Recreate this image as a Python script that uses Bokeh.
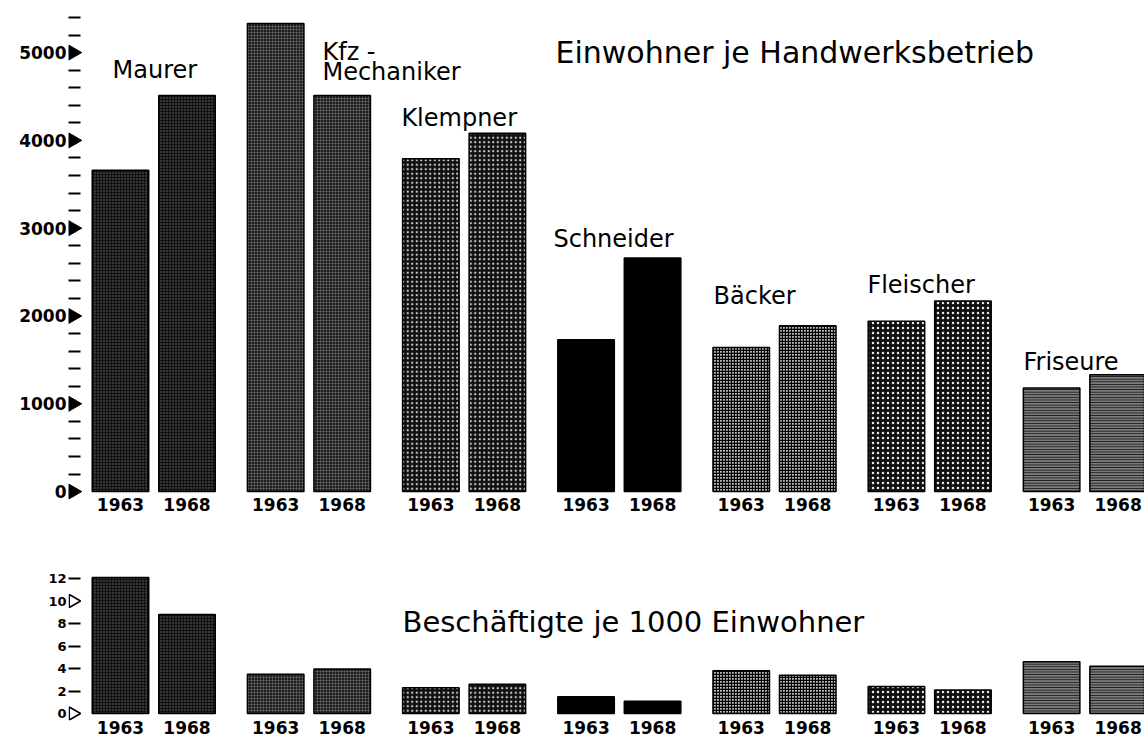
import math
from bokeh.plotting import figure
from bokeh.layouts import column
from bokeh.models import Range1d, FixedTicker, ColumnDataSource
from bokeh.core.properties import value
from bokeh.embed import file_html
from bokeh.resources import INLINE

# ---------------- data ----------------
categories = ["Maurer", "Kfz-Mechaniker", "Klempner", "Schneider", "Bäcker", "Fleischer", "Friseure"]
years = ["1963", "1968"]
einwohner_1963 = [3660, 5330, 3790, 1730, 1640, 1940, 1180]
einwohner_1968 = [4510, 4510, 4080, 2660, 1890, 2170, 1330]
beschaeftigte_1963 = [12.1, 3.5, 2.3, 1.5, 3.8, 2.4, 4.6]
beschaeftigte_1968 = [8.8, 3.95, 2.6, 1.1, 3.4, 2.1, 4.2]

top_ticks = [0, 1000, 2000, 3000, 4000, 5000]
top_minor_ticks = [v for v in range(200, 5600, 200) if v % 1000 != 0]
bottom_ticks = [0, 2, 4, 6, 8, 10, 12]
bottom_marked_ticks = [0, 10]
bottom_dash_ticks = [2, 4, 6, 8, 12]

title_top = "Einwohner je Handwerksbetrieb"
title_bottom = "Beschäftigte je 1000 Einwohner"
label_texts = ["Maurer", "Kfz -", "Mechaniker", "Klempner", "Schneider", "Bäcker", "Fleischer", "Friseure"]

# ---------------- layout / style ----------------
GROUP = 7.0           # group spacing in x units
OFF = [2.0, 5.0]      # bar centre offsets inside a group
BAR_W = 2.55
X_RANGE = (-0.345, 48.19)
TRI_X = -0.14
label_x = [1.64, 11.11, 11.11, 14.67, 21.53, 28.75, 35.69, 42.73]
label_y = [4803, 5003, 4776, 4260, 2878, 2232, 2358, 1473]
title_top_pos = (21.62, 5003)
title_bottom_pos = (14.72, 8.12)

styles = [
    dict(fill_color="#101010", hatch_pattern="dot", hatch_color="white", hatch_scale=3, hatch_weight=1, hatch_alpha=0.4),
    dict(fill_color="#1e1e1e", hatch_pattern="cross", hatch_color="#c0c0c0", hatch_scale=3, hatch_weight=0.6, hatch_alpha=0.45),
    dict(fill_color="#101010", hatch_pattern="dot", hatch_color="white", hatch_scale=4.5, hatch_weight=1.5, hatch_alpha=0.8),
    dict(fill_color="black", hatch_pattern=None, hatch_color="white", hatch_scale=3, hatch_weight=1, hatch_alpha=0),
    dict(fill_color="#bdbdbd", hatch_pattern="cross", hatch_color="black", hatch_scale=3, hatch_weight=1.3, hatch_alpha=1),
    dict(fill_color="#101010", hatch_pattern="dot", hatch_color="white", hatch_scale=5, hatch_weight=2.5, hatch_alpha=0.9),
    dict(fill_color="#7c7c7c", hatch_pattern="horizontal_line", hatch_color="#111111", hatch_scale=2.6, hatch_weight=1, hatch_alpha=1),
]

FONT = "DejaVu Sans"

xticks = []
overrides = {}
for i in range(len(categories)):
    for j, yr in enumerate(years):
        t = int(GROUP * i + OFF[j])
        xticks.append(t)
        overrides[t] = yr


def style_common(p, standoff):
    p.outline_line_color = None
    p.xgrid.visible = False
    p.ygrid.visible = False
    p.background_fill_color = "white"
    p.border_fill_color = "white"
    xa = p.xaxis[0]
    xa.ticker = FixedTicker(ticks=xticks)
    xa.major_label_overrides = overrides
    xa.axis_line_color = None
    xa.major_tick_line_color = None
    xa.minor_tick_line_color = None
    xa.major_tick_in = 0
    xa.major_tick_out = 0
    xa.major_label_standoff = standoff
    xa.major_label_text_font = FONT
    xa.major_label_text_font_style = "bold"
    xa.major_label_text_font_size = "17px"
    xa.major_label_text_color = "black"
    ya = p.yaxis[0]
    ya.axis_line_color = None
    ya.major_tick_line_color = None
    ya.major_tick_in = 0
    ya.major_tick_out = 0
    ya.minor_tick_in = 12
    ya.minor_tick_out = 0
    ya.minor_tick_line_color = "black"
    ya.minor_tick_line_width = 2.2
    ya.major_label_standoff = 2
    ya.major_label_text_font = FONT
    ya.major_label_text_font_style = "bold"
    ya.major_label_text_color = "black"


def draw_bars(p, vals63, vals68):
    for i, st in enumerate(styles):
        src = ColumnDataSource(dict(x=[GROUP * i + OFF[0], GROUP * i + OFF[1]], top=[vals63[i], vals68[i]]))
        kw = dict(st)
        if kw["hatch_pattern"] is None:
            kw.pop("hatch_pattern")
        p.vbar(x="x", top="top", bottom=0, width=BAR_W, source=src, line_color="black", line_width=1.5, **kw)


# ---------------- top chart ----------------
p1 = figure(width=1144, height=519, x_range=Range1d(*X_RANGE), y_range=Range1d(-90, 5502),
            output_backend="svg", toolbar_location=None,
            min_border_left=68, min_border_right=0, min_border_top=8, min_border_bottom=20)
style_common(p1, -2)
p1.yaxis[0].ticker = FixedTicker(ticks=top_ticks, minor_ticks=top_minor_ticks)
p1.yaxis[0].major_label_text_font_size = "17px"
draw_bars(p1, einwohner_1963, einwohner_1968)
p1.scatter(x=[TRI_X] * len(top_ticks), y=top_ticks, marker="triangle", angle=-math.pi / 2,
           size=15, fill_color="black", line_color="black")
p1.text(x=label_x, y=label_y, text=label_texts, text_font=value(FONT), text_font_size="24px",
        text_baseline="alphabetic", text_align="left", text_color="black")
p1.text(x=[title_top_pos[0]], y=[title_top_pos[1]], text=[title_top], text_font=value(FONT),
        text_font_size="30px", text_baseline="alphabetic", text_align="left", text_color="black")

# ---------------- bottom chart ----------------
p2 = figure(width=1144, height=221, x_range=p1.x_range, y_range=Range1d(-0.622, 17.245),
            output_backend="svg", toolbar_location=None,
            min_border_left=68, min_border_right=0, min_border_top=0, min_border_bottom=20)
style_common(p2, 0)
p2.yaxis[0].ticker = FixedTicker(ticks=bottom_ticks, minor_ticks=bottom_dash_ticks)
p2.yaxis[0].major_label_text_font_size = "13px"
draw_bars(p2, beschaeftigte_1963, beschaeftigte_1968)
p2.scatter(x=[TRI_X] * len(bottom_marked_ticks), y=bottom_marked_ticks, marker="triangle", angle=-math.pi / 2,
           size=13, fill_color="white", line_color="black", line_width=1.5)
p2.text(x=[title_bottom_pos[0]], y=[title_bottom_pos[1]], text=[title_bottom], text_font=value(FONT),
        text_font_size="29px", text_baseline="alphabetic", text_align="left", text_color="black")

layout = column(p1, p2, spacing=0)
open("out.html", "w").write(file_html(layout, INLINE))
